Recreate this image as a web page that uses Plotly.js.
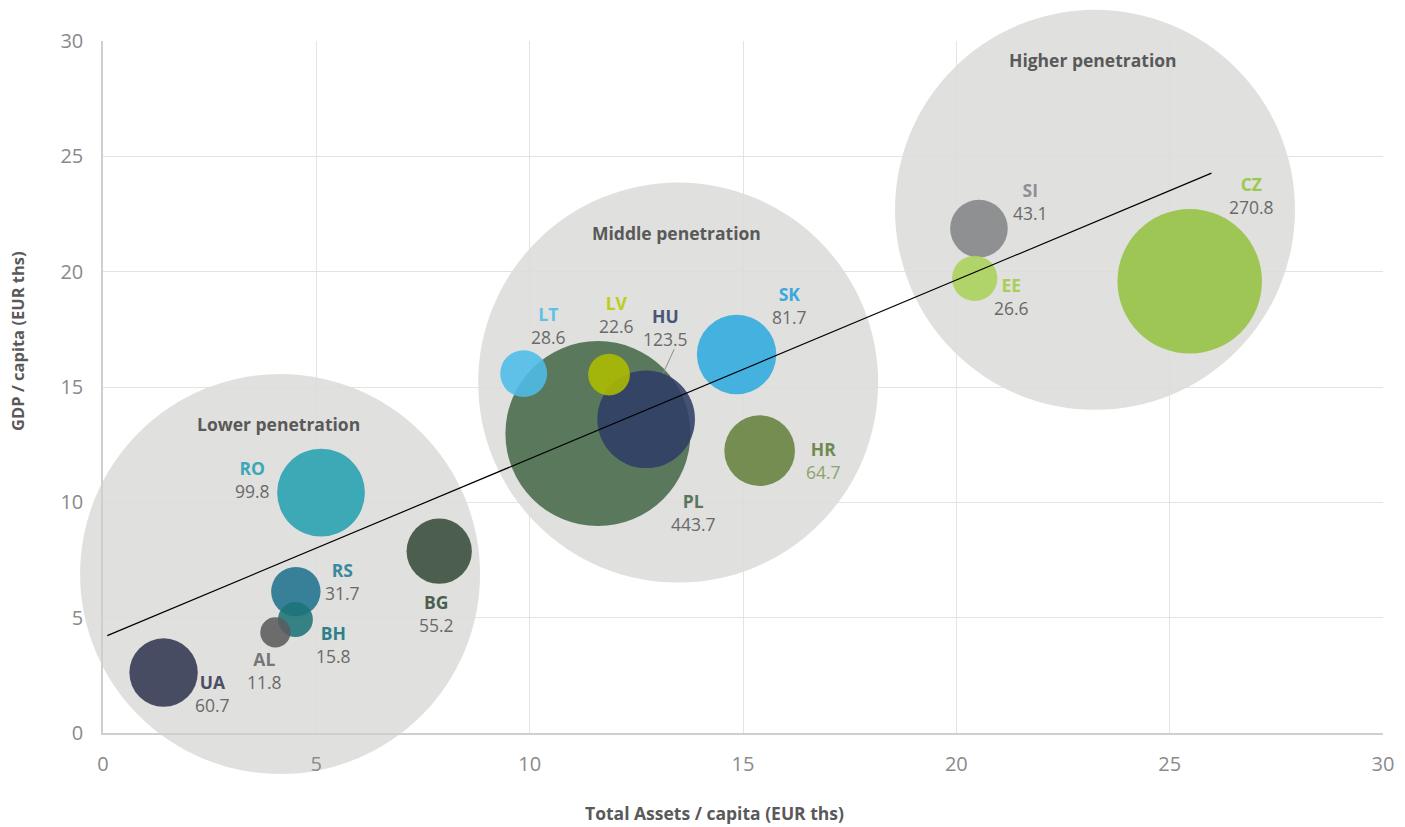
<!DOCTYPE html>
<html>
<head>
<meta charset="utf-8">
<script src="https://cdn.plot.ly/plotly-3.0.1.min.js"></script>
<style>
  html, body { margin: 0; padding: 0; background: #ffffff; }
  #chart { width: 1405px; height: 827px; }
</style>
</head>
<body>
<div id="chart"></div>
<script>
// Banking sector: total assets per capita vs GDP per capita; bubble area = total assets (EUR bn)
const countries = ['PL', 'CZ', 'HU', 'RO', 'SK', 'HR', 'UA', 'BG', 'SI', 'RS', 'LT', 'EE', 'LV', 'BH', 'AL'];
const assetsPerCapita = [11.60, 25.47, 12.73, 5.11, 14.85, 15.39, 1.42, 7.88, 20.53, 4.52, 9.86, 20.43, 11.86, 4.51, 4.04];
const gdpPerCapita = [12.98, 19.58, 13.60, 10.42, 16.41, 12.24, 2.62, 7.88, 21.87, 6.13, 15.58, 19.71, 15.54, 4.92, 4.36];
const totalAssets = [443.7, 270.8, 123.5, 99.8, 81.7, 64.7, 60.7, 55.2, 43.1, 31.7, 28.6, 26.6, 22.6, 15.8, 11.8];

// Penetration groups
const groupNames = ['Lower penetration', 'Middle penetration', 'Higher penetration'];
const groupX = [4.15, 13.48, 23.25];
const groupY = [6.89, 15.19, 22.68];

// Linear trend
const trendX = [0.10, 25.98];
const trendY = [4.22, 24.27];

const xTicks = [0, 5, 10, 15, 20, 25, 30];
const yTicks = [0, 5, 10, 15, 20, 25, 30];

// Styling per country
const bubbleColor = {
  PL: '#45694a', CZ: '#94c242', HU: '#2f3c66', RO: '#26a1b1', SK: '#2eaade',
  HR: '#66813f', UA: '#323752', BG: '#374c3b', SI: '#838486', RS: '#1f728e',
  LT: '#4dbce9', EE: '#aad15a', LV: '#adbc00', BH: '#1d7378', AL: '#5b5b5d'
};
const codeColor = {
  PL: '#58775c', CZ: '#9cc84c', HU: '#4a5578', RO: '#3aa8b8', SK: '#3aaade',
  HR: '#6f8a4f', UA: '#4a4e66', BG: '#4b5e4f', SI: '#8e8f91', RS: '#3a88a0',
  LT: '#5fc0e8', EE: '#a8cf55', LV: '#c0cc1a', BH: '#2e8088', AL: '#777777'
};
const valueColor = { HR: '#8aa46a' };
// label offsets in pixels from the bubble centre (right, up)
const labelShift = {
  PL: [96, -79], CZ: [62, 86], HU: [19, 92], RO: [-69, 13], SK: [53, 49],
  HR: [64, -10], UA: [49, -21], BG: [-3, -62], SI: [52, 27], RS: [47, 10],
  LT: [25, 48], EE: [37, -18], LV: [7, 60], BH: [38, -25], AL: [-11, -38]
};

const FONT = '"Open Sans", "Liberation Sans", Arial, sans-serif';
const maxDiameter = 185;

const traces = [
  {
    type: 'scatter', mode: 'markers',
    x: groupX, y: groupY,
    marker: { size: 400, sizemode: 'diameter', color: 'rgb(220,220,218)', opacity: 0.88, line: { width: 0 } },
    cliponaxis: false, hoverinfo: 'skip', showlegend: false
  },
  {
    type: 'scatter', mode: 'markers',
    x: assetsPerCapita, y: gdpPerCapita, text: countries,
    marker: {
      size: totalAssets, sizemode: 'area',
      sizeref: 2 * Math.max(...totalAssets) / (maxDiameter * maxDiameter),
      color: countries.map(c => bubbleColor[c]), opacity: 0.88, line: { width: 0 }
    },
    cliponaxis: false, showlegend: false
  },
  {
    type: 'scatter', mode: 'lines',
    x: trendX, y: trendY,
    line: { color: '#000000', width: 1.2 },
    hoverinfo: 'skip', showlegend: false
  }
];

const annotations = [];
countries.forEach((c, i) => {
  const s = labelShift[c];
  annotations.push({
    x: assetsPerCapita[i], y: gdpPerCapita[i], xref: 'x', yref: 'y',
    xshift: s[0], yshift: s[1], showarrow: false,
    text: '<b><span style="color:' + codeColor[c] + '">' + c + '</span></b><br>' +
          '<span style="color:' + (valueColor[c] || '#6a6a6a') + '">' + totalAssets[i].toFixed(1) + '</span>',
    font: { family: FONT, size: 17.5, color: '#6a6a6a' },
    align: 'center', xanchor: 'center', yanchor: 'middle'
  });
});
groupNames.forEach((g, i) => {
  annotations.push({
    x: groupX[i], y: groupY[i], xref: 'x', yref: 'y', xshift: -2, yshift: 150,
    showarrow: false, text: '<b>' + g + '</b>',
    font: { family: FONT, size: 17.5, color: '#595959' }, xanchor: 'center', yanchor: 'middle'
  });
});
// axis titles
annotations.push({
  xref: 'paper', yref: 'paper', x: 0.478, y: -0.115, xanchor: 'center', yanchor: 'middle',
  showarrow: false, text: '<b>Total Assets / capita (EUR ths)</b>',
  font: { family: FONT, size: 17.5, color: '#595959' }
});
annotations.push({
  xref: 'paper', yref: 'paper', x: -0.067, y: 0.567, xanchor: 'center', yanchor: 'middle',
  showarrow: false, textangle: -90, text: '<b>GDP / capita (EUR ths)</b>',
  font: { family: FONT, size: 16.5, color: '#595959' }
});

// leader line from the HU label to its bubble
const huIdx = countries.indexOf('HU');
const shapes = [{
  type: 'line', xref: 'x', yref: 'y', xsizemode: 'pixel', ysizemode: 'pixel',
  xanchor: assetsPerCapita[huIdx], yanchor: gdpPerCapita[huIdx],
  x0: 28, y0: 70, x1: 17, y1: 46,
  line: { color: '#8a8a8a', width: 1 }
}];

const axisCommon = {
  range: [0, 30], fixedrange: true,
  showgrid: true, gridcolor: '#e3e3e3', gridwidth: 1,
  showline: true, linecolor: '#cfcfcf', linewidth: 1.5,
  zeroline: false, ticks: '',
  tickfont: { family: FONT, size: 20, color: '#8a8a8a' }
};

const layout = {
  width: 1405, height: 827,
  margin: { l: 103, r: 22, t: 41, b: 93.5 },
  paper_bgcolor: '#ffffff', plot_bgcolor: '#ffffff',
  font: { family: FONT },
  xaxis: Object.assign({}, axisCommon, { tickvals: xTicks, ticklabelstandoff: 12 }),
  yaxis: Object.assign({}, axisCommon, { tickvals: yTicks, ticklabelstandoff: 14 }),
  annotations: annotations,
  shapes: shapes,
  hovermode: 'closest'
};

Plotly.newPlot('chart', traces, layout, { displayModeBar: false });
</script>
</body>
</html>
